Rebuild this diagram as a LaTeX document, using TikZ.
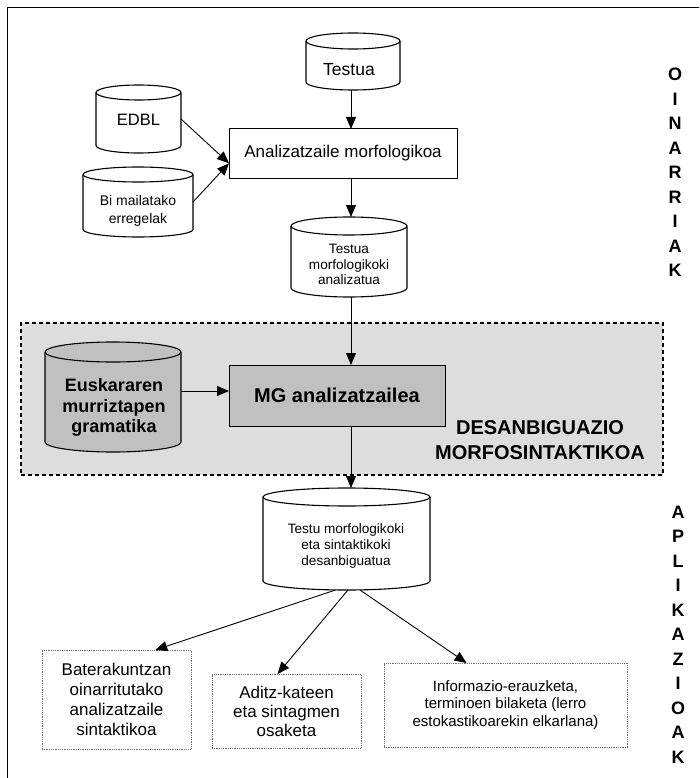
\documentclass[tikz,border=0pt]{standalone}
\usepackage{fontspec}
\setmainfont{Liberation Sans}
\usetikzlibrary{arrows.meta,calc}

\definecolor{bandgray}{RGB}{221,221,221}
\definecolor{boxgray}{RGB}{192,192,192}
\definecolor{dotgray}{RGB}{110,110,110}

% Draws a database drum around the (empty) node #1:
% #2 = vertical radius of the end ellipses, #3 = fill colour
\newcommand{\drawdrum}[3]{%
  \path[drumline, fill=#3] let \p1=(#1.north west), \p2=(#1.south east),
      \n1={(\x2-\x1)/2} in
    (\x1,\y1-#2) -- (\x1,\y2+#2)
    arc[start angle=180, end angle=360, x radius=\n1, y radius=#2]
    -- (\x2,\y1-#2)
    arc[start angle=0, end angle=180, x radius=\n1, y radius=#2] -- cycle;
  \draw[drumline] let \p1=(#1.north west), \p2=(#1.south east),
      \n1={(\x2-\x1)/2} in
    (\x1,\y1-#2) arc[start angle=180, end angle=360, x radius=\n1, y radius=#2];
}

\begin{document}
\begin{tikzpicture}[x=1pt,y=-1pt,
  frameline/.style={line width=0.9pt},
  drum/.style={inner sep=0pt, outer sep=0pt},
  drumline/.style={draw, line width=1.1pt},
  txt/.style={inner sep=0pt, align=center},
  flow/.style={line width=0.9pt, -{Triangle[length=12pt,width=10pt]}},
  procbox/.style={draw, line width=1pt, inner sep=0pt, outer sep=0pt, align=center},
  appbox/.style={draw=dotgray, line width=0.8pt, dash pattern=on 0.9pt off 0.9pt,
                 inner sep=0pt, outer sep=0pt, align=center},
  region/.style={draw, fill=bandgray, line width=1.4pt, dash pattern=on 4pt off 3pt,
                 inner sep=0pt, outer sep=0pt},
  side/.style={font=\bfseries\fontsize{18}{24.5}\selectfont, align=center, inner sep=0pt}
]
\useasboundingbox (0,0) rectangle (699,778);

% outer frame
\begin{scope}
  \clip (0,0) rectangle (699,778);
  \draw[frameline] (7.5,7.5) rectangle (720,800);
\end{scope}

% disambiguation band
\node[region, minimum width=642pt, minimum height=152pt] (band) at (342,399) {};

% ---- base stage ----
\node[drum, minimum width=94pt, minimum height=57pt] (testua) at (353,61.5) {};
\drawdrum{testua}{8pt}{white}
\node[txt, font=\fontsize{17.5}{21}\selectfont] (testua-t) at (349,70) {Testua};

\node[drum, minimum width=85pt, minimum height=68pt] (edbl) at (138.5,119) {};
\drawdrum{edbl}{7.5pt}{white}
\node[txt, font=\fontsize{16.5}{20}\selectfont] (edbl-t) at (138.5,120) {EDBL};

\node[drum, minimum width=110pt, minimum height=70pt] (bi) at (138,202) {};
\drawdrum{bi}{7.5pt}{white}
\node[txt, font=\fontsize{14}{18}\selectfont] (bi-t) at (138,211) {Bi mailatako\\erregelak};

\node[procbox, minimum width=228pt, minimum height=49pt,
      font=\fontsize{17}{20}\selectfont] (anal) at (343,153.5) {Analizatzaile morfologikoa};

\node[drum, minimum width=116pt, minimum height=80pt] (analz) at (349,257) {};
\drawdrum{analz}{9pt}{white}
\node[txt, font=\fontsize{13.6}{15.5}\selectfont] (analz-t) at (349,264.5)
  {Testua\\morfologikoki\\analizatua};

% ---- disambiguation stage ----
\node[drum, minimum width=136pt, minimum height=110pt] (eusk) at (113,397) {};
\drawdrum{eusk}{10pt}{boxgray}
\node[txt, font=\bfseries\fontsize{18}{20.5}\selectfont] (eusk-t) at (114,407.5)
  {Euskararen\\murriztapen\\gramatika};

\node[procbox, fill=boxgray, minimum width=216pt, minimum height=61pt,
      font=\bfseries\fontsize{20}{24}\selectfont] (mg) at (337,395.5) {MG analizatzailea};

\node[txt, font=\bfseries\fontsize{20}{25}\selectfont] (dmlabel) at (540,440)
  {DESANBIGUAZIO\\MORFOSINTAKTIKOA};

% ---- output and applications ----
\node[drum, minimum width=167pt, minimum height=102pt] (ds) at (346.5,539) {};
\drawdrum{ds}{9pt}{white}
\node[txt, font=\fontsize{13.6}{16}\selectfont] (ds-t) at (346,545.5)
  {Testu morfologikoki\\eta sintaktikoki\\desanbiguatua};

\node[appbox, minimum width=149pt, minimum height=99pt,
      font=\fontsize{17}{20}\selectfont] (b1) at (116.5,699.5)
  {Baterakuntzan\\oinarritutako\\analizatzaile\\sintaktikoa};
\node[appbox, minimum width=149pt, minimum height=74pt,
      font=\fontsize{17}{19}\selectfont] (b2) at (286.5,711)
  {Aditz-kateen\\eta sintagmen\\osaketa};
\node[appbox, minimum width=243pt, minimum height=84pt,
      font=\fontsize{15}{17.5}\selectfont] (b3) at (505.5,705)
  {Informazio-erauzketa,\\terminoen bilaketa (lerro\\estokastikoarekin elkarlana)};

% side captions
\node[side] (oinarri) at (675,172.5) {O\\I\\N\\A\\R\\R\\I\\A\\K};
\node[side] (aplik) at (678,634.5) {A\\P\\L\\I\\K\\A\\Z\\I\\O\\A\\K};

% ---- connectors ----
\coordinate (spine) at (351,0);
\draw[flow] (testua.south -| spine) -- (anal.north -| spine);
\draw[flow] (anal.south -| spine) -- (analz.north -| spine);
\draw[flow] (analz.south -| spine) -- (mg.north -| spine);
\draw[flow] (mg.south -| spine) -- (ds.north -| spine);

\coordinate (anal-in) at ($(anal.south west)!0.3!(anal.north west)$);
\draw[flow] (edbl.east) -- (anal-in);
\draw[flow] (bi.east) -- (anal-in);

\coordinate (e2m) at (0,391);
\draw[flow] (eusk.east |- e2m) -- (mg.west |- e2m);

\draw[flow] ($(ds.south)+(-11,0)$) -- ($(b1.north west)!0.76!(b1.north east)$);
\draw[flow] ($(ds.south)+(1.5,0)$) -- ($(b2.north west)!0.44!(b2.north east)$);
\draw[flow] ($(ds.south)+(13.5,0)$) -- ($(b3.north west)!0.34!(b3.north east)$);
\end{tikzpicture}
\end{document}
